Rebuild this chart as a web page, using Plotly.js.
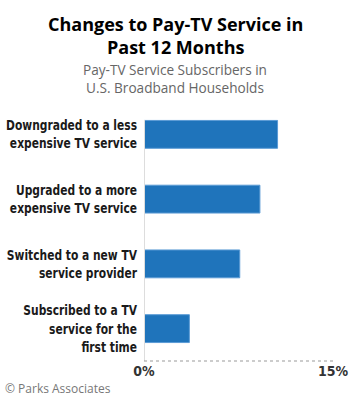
<!DOCTYPE html>
<html>
<head>
<meta charset="utf-8">
<script src="https://cdn.plot.ly/plotly-3.0.1.min.js"></script>
<style>
html,body{margin:0;padding:0;background:#fff;}
#chart{width:350px;height:402px;}
</style>
</head>
<body>
<div id="chart"></div>
<script>
var categories = [
  "Downgraded to a less<br>expensive TV service",
  "Upgraded to a more<br>expensive TV service",
  "Switched to a new TV<br>service provider",
  "Subscribed to a TV<br>service for the<br>first time"
];
var values = [10.6, 9.2, 7.6, 3.6];
var tickVals = [0, 15];
var tickText = ["0%", "15%"];

var condensed = "'Liberation Sans Narrow', 'DejaVu Sans Condensed', sans-serif";
var H = 259, B = 361;
function py(px) { return (B - px) / H; }
function px(p) { return (p - 144) / 189; }

var data = [{
  type: 'bar',
  orientation: 'h',
  y: categories,
  x: values,
  marker: {color: '#1f74bb', line: {color: '#5b9bd5', width: 1}},
  hoverinfo: 'none'
}];

var layout = {
  width: 350, height: 402,
  margin: {l: 144, r: 17, t: 102, b: 41},
  paper_bgcolor: '#fff', plot_bgcolor: '#fff',
  showlegend: false,
  bargap: 0.57,
  xaxis: {
    range: [0, 15],
    tickvals: tickVals, ticktext: tickText,
    showgrid: false, zeroline: false, showline: false,
    ticks: '',
    tickfont: {family: condensed, size: 14, color: '#333', weight: 'bold'},
    fixedrange: true
  },
  yaxis: {
    autorange: 'reversed',
    showgrid: false, zeroline: false, showline: false,
    ticks: '',
    ticklabelstandoff: 6,
    tickfont: {family: condensed, size: 14, color: '#1a1a1a', weight: 'bold'},
    fixedrange: true
  },
  shapes: [
    {type: 'line', xref: 'x', yref: 'paper', x0: 0, x1: 0, y0: 0, y1: py(120),
     line: {color: '#dddddd', width: 2}},
    {type: 'line', xref: 'paper', yref: 'paper', x0: 0, x1: 1, y0: 0, y1: 0,
     line: {color: '#999999', width: 1, dash: 'dot'}}
  ],
  annotations: [
    {text: '<b>Changes to Pay-TV Service in<br>Past 12 Months</b>',
     xref: 'paper', yref: 'paper', x: px(175), y: py(10), xanchor: 'center', yanchor: 'top',
     showarrow: false, align: 'center',
     font: {family: "'Open Sans', sans-serif", size: 18, color: '#000'}},
    {text: 'Pay-TV Service Subscribers in<br>U.S. Broadband Households',
     xref: 'paper', yref: 'paper', x: px(175), y: py(58), xanchor: 'center', yanchor: 'top',
     showarrow: false, align: 'center',
     font: {family: "'Open Sans', sans-serif", size: 13.6, color: '#666'}},
    {text: '© Parks Associates', xref: 'paper', yref: 'paper',
     x: px(3), y: py(378), xanchor: 'left', yanchor: 'top', showarrow: false,
     font: {family: "'Open Sans', sans-serif", size: 12, color: '#777'}}
  ]
};

Plotly.newPlot('chart', data, layout, {displayModeBar: false, staticPlot: true}).then(function (gd) {
  // condense the y-axis category labels horizontally, anchored at their right edge
  var texts = gd.querySelectorAll('g.ytick text');
  texts.forEach(function (t) {
    var x = parseFloat(t.getAttribute('x')) || 0;
    var tr = t.getAttribute('transform') || '';
    t.setAttribute('transform', tr + ' translate(' + x + ',0) scale(0.85,1) translate(' + (-x) + ',0)');
  });
});
</script>
</body>
</html>
